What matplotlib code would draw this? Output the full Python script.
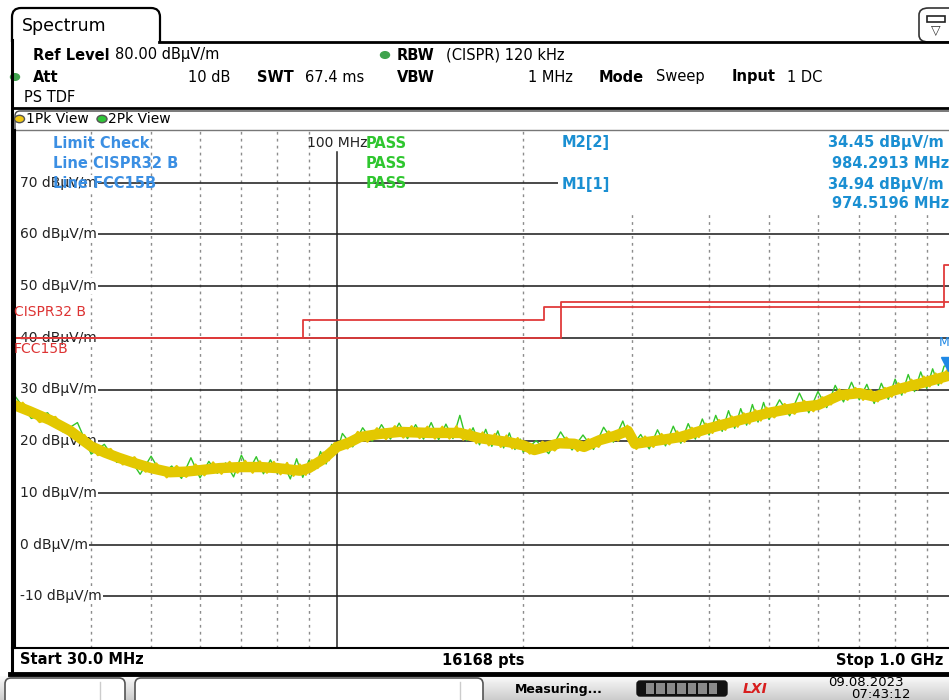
import matplotlib
matplotlib.use("Agg")
import matplotlib.pyplot as plt
from matplotlib.lines import Line2D
from matplotlib.patches import Rectangle, FancyBboxPatch, Circle, PathPatch
from matplotlib.path import Path
from matplotlib.transforms import blended_transform_factory
import numpy as np

# ---------------- data ----------------
cent_freq = [30, 31.8, 34.3, 37.0, 40, 42.1, 44.3, 46.9, 50, 53.6, 56.7, 60, 64.6, 70, 75, 80, 84, 87, 90,
             94.9, 100, 104.9, 108.9, 117.1, 126.2, 141.3, 158, 170, 190, 200, 208.6, 229, 242, 251, 266,
             281, 295.5, 303.4, 333, 359, 400, 449, 500, 561, 600, 651, 700, 742, 800, 900, 1000]
cent_level = [27.0, 25.8, 24.1, 22.0, 19.0, 17.8, 16.8, 15.8, 14.8, 14.0, 14.1, 14.4, 14.8, 15.0, 15.0, 14.8,
              14.5, 14.3, 14.8, 16.5, 18.9, 19.8, 20.8, 21.4, 21.8, 21.6, 21.6, 20.6, 19.8, 19.2, 18.3, 19.6,
              19.5, 18.9, 20.2, 21.0, 22.0, 19.5, 20.2, 20.8, 22.5, 24.1, 25.5, 26.6, 27.0, 28.9, 29.3, 28.6,
              29.9, 31.5, 33.0]

# 1Pk trace, rough edge readings
pk1_freq = [31, 33, 35, 37, 39, 41, 43, 45, 47, 49, 51, 53, 55, 57, 59, 61, 63, 65, 67, 69, 71, 73, 75, 77,
            79, 81, 83, 85, 87, 89, 91, 93, 95, 97, 99,
            104, 108, 112, 116, 120, 124, 128, 132, 136, 140, 144, 148, 152, 156, 160, 164, 168, 172, 176,
            180, 184, 188, 192, 196,
            205, 215, 225, 235, 245, 255, 265, 275, 285, 295, 305, 315, 325, 335, 345, 355, 365, 375, 385,
            395, 405, 415, 425, 435, 445, 455, 465, 475, 485, 495,
            510, 530, 550, 570, 590, 610, 630, 650, 670, 690, 710, 730, 750, 770, 790, 810, 830, 850, 870,
            890, 910, 930, 950, 970, 990]
pk1_level = [27.4, 23.7, 24.7, 21.0, 21.2, 17.3, 18.5, 15.5, 16.9, 14.1, 15.7, 13.0, 15.2, 13.1, 15.5, 13.4,
             15.9, 13.7, 16.0, 13.9, 16.2, 13.9, 16.1, 13.9, 16.0, 13.6, 15.8, 13.3, 15.5, 13.5, 16.3, 14.8,
             17.8, 16.3, 19.6,
             18.6, 21.8, 19.9, 22.5, 20.4, 22.9, 20.7, 22.9, 20.6, 22.8, 20.5, 22.8, 20.5, 22.9, 20.3, 22.3,
             19.6, 21.7, 19.2, 21.4, 18.9, 21.1, 18.6, 20.6,
             17.6, 19.9, 18.2, 20.7, 18.1, 20.4, 18.9, 21.9, 20.1, 23.0, 18.5, 20.9, 18.9, 21.4, 19.4, 21.9,
             19.9, 22.6, 20.8, 23.4, 21.6, 24.1, 22.2, 24.8, 22.8, 25.4, 23.4, 26.0, 24.0, 26.5,
             24.6, 27.2, 25.3, 27.8, 25.8, 28.5, 27.1, 30.0, 28.0, 30.3, 28.0, 29.9, 27.7, 30.3, 28.6, 31.2,
             29.4, 31.9, 30.0, 32.5, 30.6, 33.1, 31.2, 33.7, 31.8]

# 2Pk trace readings
pk2_freq = [30, 32, 34, 36, 38, 40, 42, 44, 46, 48, 50, 52, 54, 56, 58, 60, 62, 64, 66, 68, 70, 72, 74, 76,
            78, 80, 82, 84, 86, 88, 90, 92, 94, 96, 98, 100,
            102, 106, 110, 114, 118, 122, 126, 130, 134, 138, 142, 146, 150, 154, 158, 162, 166, 170, 174,
            178, 182, 186, 190, 194, 198,
            200, 210, 220, 230, 240, 250, 260, 270, 280, 290, 300, 310, 320, 330, 340, 350, 360, 370, 380,
            390, 400, 410, 420, 430, 440, 450, 460, 470, 480, 490, 500,
            520, 540, 560, 580, 600, 620, 640, 660, 680, 700, 720, 740, 760, 780, 800, 820, 840, 860, 880,
            900, 920, 940, 960, 980, 1000]
pk2_level = [29.0, 24.4, 25.5, 21.8, 23.6, 17.5, 19.4, 15.9, 17.0, 13.6, 17.1, 13.6, 15.2, 12.8, 16.8, 12.9,
             16.1, 13.8, 15.8, 13.1, 17.3, 14.3, 17.0, 13.7, 16.4, 13.8, 15.5, 12.7, 16.6, 13.0, 16.3, 14.5,
             18.0, 15.6, 19.4, 18.0,
             21.5, 18.9, 22.6, 20.0, 23.2, 20.4, 23.5, 20.5, 23.2, 20.4, 23.6, 20.3, 23.3, 20.5, 25.0, 20.1,
             22.6, 19.3, 22.3, 19.0, 22.0, 18.7, 21.6, 18.4, 20.4,
             17.9, 20.1, 17.6, 21.8, 18.3, 21.2, 18.4, 22.7, 19.8, 23.9, 19.0, 21.3, 18.5, 22.2, 19.1, 22.9,
             19.6, 23.4, 20.4, 24.3, 21.2, 25.0, 21.9, 25.9, 22.5, 26.3, 23.1, 27.1, 23.7, 27.5, 24.2,
             28.0, 24.9, 29.3, 25.5, 29.6, 26.5, 30.8, 27.6, 31.4, 28.0, 31.0, 27.3, 31.2, 28.1, 32.0, 28.9,
             32.9, 29.6, 33.4, 30.2, 34.0, 30.8, 34.5, 34.9, 31.7]

fcc_freq = [30, 88, 216, 960, 1000]
fcc_level = [40, 43.5, 46, 54, 54]
cispr_freq = [30, 230, 1000]
cispr_level = [40, 47, 47]

grid_levels = [70, 60, 50, 40, 30, 20, 10, 0, -10]
grid_labels = ["70 dBµV/m", "60 dBµV/m", "50 dBµV/m", "40 dBµV/m", "30 dBµV/m",
               "20 dBµV/m", "10 dBµV/m", "0 dBµV/m", "-10 dBµV/m"]
grid_freqs = [40, 50, 60, 70, 80, 90, 200, 300, 400, 500, 600, 700, 800, 900]
center_freq_line = 100

marker_freq = [974.5196]
marker_level = [34.94]

# ---------------- figure ----------------
W, H = 949, 700
plt.rcParams['font.family'] = ['DejaVu Sans']
fig = plt.figure(figsize=(W / 100, H / 100), dpi=100)
fig.patch.set_facecolor('white')


def fx(x):
    return x / W


def fy(y):
    return 1 - y / H


def T(x, y, s, **kw):
    kw.setdefault('va', 'center')
    kw.setdefault('fontsize', 10.5)
    fig.text(fx(x), fy(y), s, **kw)


def L(x1, y1, x2, y2, **kw):
    fig.add_artist(Line2D([fx(x1), fx(x2)], [fy(y1), fy(y2)], transform=fig.transFigure, **kw))


def pth(pts, codes, **kw):
    p = Path([(fx(a), fy(b)) for a, b in pts], codes)
    fig.add_artist(PathPatch(p, transform=fig.transFigure, **kw))


# Spectrum tab (open at the bottom)
pth([(12, 42), (12, 17), (12, 8), (21, 8), (151, 8), (160, 8), (160, 17), (160, 42)],
    [Path.MOVETO, Path.LINETO, Path.CURVE3, Path.CURVE3, Path.LINETO, Path.CURVE3, Path.CURVE3, Path.LINETO],
    facecolor='none', edgecolor='black', lw=1.6)
T(22, 26, "Spectrum", fontsize=12.5, zorder=3)
L(159, 42, W, 42, color='black', lw=2, zorder=3)
L(12, 40, 12, 674, color='black', lw=2.2, zorder=3)

# top-right icon
icon = FancyBboxPatch((fx(919), fy(42)), fx(40), 34 / H, boxstyle="round,pad=0,rounding_size=0.01",
                      transform=fig.transFigure, facecolor='white', edgecolor='#333333', lw=1.2)
fig.add_artist(icon)
fig.add_artist(Rectangle((fx(927), fy(22)), fx(18), 6 / H, transform=fig.transFigure,
                         facecolor='white', edgecolor='#222222', lw=1.2))
T(936, 31, "▽", fontsize=9, ha='center', color='#333333')

# info rows
dot_c = '#3fa34d'
fig.add_artist(Circle((fx(385), fy(55)), 4.5 / W, transform=fig.transFigure, color=dot_c))
fig.add_artist(Circle((fx(15), fy(77)), 4.5 / W, transform=fig.transFigure, color=dot_c))
T(33, 55, "Ref Level", fontweight='bold')
T(115, 55, "80.00 dBµV/m")
T(397, 55, "RBW", fontweight='bold')
T(446, 55, "(CISPR) 120 kHz")
T(33, 77, "Att", fontweight='bold')
T(230, 77, "10 dB", ha='right')
T(257, 77, "SWT", fontweight='bold')
T(305, 77, "67.4 ms")
T(397, 77, "VBW", fontweight='bold')
T(573, 77, "1 MHz", ha='right')
T(599, 77, "Mode", fontweight='bold')
T(656, 77, "Sweep")
T(732, 77, "Input", fontweight='bold')
T(787, 77, "1 DC")
T(24, 97, "PS TDF")
L(12, 108, W, 108, color='black', lw=2, zorder=3)

# 1Pk view bar
pth([(15, 130), (15, 116), (15, 111), (20, 111), (W, 111)],
    [Path.MOVETO, Path.LINETO, Path.CURVE3, Path.CURVE3, Path.LINETO],
    facecolor='none', edgecolor='#444444', lw=1)
L(15, 130, W, 130, color='#777777', lw=1, zorder=3)
fig.add_artist(Circle((fx(19.5), fy(119)), 5 / W, transform=fig.transFigure, facecolor='#f2c811',
                      edgecolor='#555555', lw=1))
fig.add_artist(Circle((fx(102), fy(119)), 5 / W, transform=fig.transFigure, facecolor='#2fc638',
                      edgecolor='#555555', lw=1))
T(26, 119, "1Pk View", fontsize=10)
T(108, 119, "2Pk View", fontsize=10)

# ---------------- main diagram ----------------
ax = fig.add_axes([14 / W, (H - 648) / H, 941 / W, 517 / H])
ax.set_xscale('log')
ax.set_xlim(30, 1000)
ax.set_ylim(-20, 80)
ax.set_axis_off()

ax.vlines(grid_freqs, -20, 80, colors='#8c8c8c', linestyles=(0, (2, 3)), lw=1, zorder=1)
ax.plot([center_freq_line, center_freq_line], [-20, 75.9], color='#222222', lw=1.1, zorder=1.5)
ax.hlines(grid_levels, 30.7, 1000, colors='#2a2a2a', lw=1.2, zorder=1.2)

# white area of marker table hides grid
ax.add_patch(Rectangle((227.7, 64.3), 1000 - 227.7, 80 - 64.3, facecolor='white', edgecolor='none', zorder=2))

bt = blended_transform_factory(ax.transAxes, ax.transData)
for lv, lb in zip(grid_levels, grid_labels):
    ax.text(6.5 / 941, lv, lb, transform=bt, va='center', ha='left', fontsize=10, color='#222222',
            bbox=dict(facecolor='white', edgecolor='none', pad=0.6), zorder=2.5)

ax.plot(pk2_freq, pk2_level, color='#33c52a', lw=1.0, zorder=4)
ax.plot(cent_freq, cent_level, color='#e3c800', lw=7.5, solid_joinstyle='round',
        solid_capstyle='butt', zorder=5)
ax.plot(pk1_freq, pk1_level, color='#e3c800', lw=1.6, zorder=5.2)

ax.step(fcc_freq, fcc_level, where='post', color='#e03a3a', lw=1.3, zorder=6)
ax.step(cispr_freq, cispr_level, where='post', color='#e03a3a', lw=1.3, zorder=6)

ax.plot(marker_freq, marker_level, marker='v', ms=10, color='#1e88e5', linestyle='none', zorder=7)
ax.annotate("M1", (marker_freq[0], marker_level[0]), xytext=(0, 11), textcoords='offset points',
            ha='center', va='bottom', fontsize=9, color='#1e88e5', zorder=7, annotation_clip=False)

# plot frame
L(15, 130, 15, 648, color='black', lw=1.5, zorder=3)
L(12, 648, W, 648, color='black', lw=1.5, zorder=3)

# marker / limit table
blue1 = '#3b8fe3'
blue2 = '#1a8fd2'
green_t = '#2fc62f'
T(53, 143, "Limit Check", color=blue1, fontweight='bold', fontsize=10.5, zorder=4)
T(53, 163, "Line CISPR32 B", color=blue1, fontweight='bold', fontsize=10.5, zorder=4)
T(53, 183, "Line FCC15B", color=blue1, fontweight='bold', fontsize=10.5, zorder=4)
T(307, 143, "100 MHz", color='#222222', fontsize=10, zorder=4)
for yy in (143, 163, 183):
    T(366, yy, "PASS", color=green_t, fontweight='bold', fontsize=10.5, zorder=4)
T(562, 143, "M2[2]", color=blue2, fontweight='bold', fontsize=10.5, zorder=4)
T(562, 184, "M1[1]", color=blue2, fontweight='bold', fontsize=10.5, zorder=4)
T(828, 143, "34.45 dBµV/m", color=blue2, fontweight='bold', fontsize=10.5, zorder=4)
T(832, 163, "984.2913 MHz", color=blue2, fontweight='bold', fontsize=10.5, zorder=4)
T(828, 184, "34.94 dBµV/m", color=blue2, fontweight='bold', fontsize=10.5, zorder=4)
T(832, 203, "974.5196 MHz", color=blue2, fontweight='bold', fontsize=10.5, zorder=4)

T(14, 312, "CISPR32 B", color='#dd3333', fontsize=10, zorder=4)
T(14, 349, "FCC15B", color='#dd3333', fontsize=10, zorder=4)

# bottom row
T(20, 660, "Start 30.0 MHz", fontweight='bold', fontsize=10.5)
T(483, 660, "16168 pts", fontweight='bold', fontsize=10.5, ha='center')
T(943, 660, "Stop 1.0 GHz", fontweight='bold', fontsize=10.5, ha='right')
L(10, 673.5, W, 673.5, color='black', lw=3.5, zorder=3)

# status bar
axs = fig.add_axes([0, 0, 1, 24 / H])
grad = np.linspace(0.98, 0.80, 50).reshape(-1, 1)
axs.imshow(grad, aspect='auto', cmap='gray', vmin=0, vmax=1, extent=[0, W, 700, 676])
axs.set_xlim(0, W)
axs.set_ylim(700, 676)
axs.set_axis_off()
for (x0, x1, xt) in [(5, 125, 100), (135, 483, 460)]:
    axs.add_patch(FancyBboxPatch((x0, 678), x1 - x0, 30, boxstyle="round,pad=0,rounding_size=6",
                                 facecolor='white', edgecolor='#555555', lw=1.2))
    axs.plot([xt, xt], [682, 700], color='#cccccc', lw=1)
axs.text(515, 689, "Measuring...", fontweight='bold', fontsize=9, va='center', ha='left')
axs.add_patch(FancyBboxPatch((637, 681), 90, 15, boxstyle="round,pad=0,rounding_size=3",
                             facecolor='#111111', edgecolor='#111111'))
for i in range(7):
    axs.add_patch(Rectangle((646 + i * 10.5, 683), 8.5, 11, facecolor='#8a8a8a', edgecolor='none'))
axs.text(755, 689, "LXI", color='#d81e1e', fontweight='bold', fontstyle='italic', fontsize=10,
         va='center', ha='center')
axs.text(866, 682, "09.08.2023", fontsize=9.5, va='center', ha='center')
axs.text(881, 694.5, "07:43:12", fontsize=9.5, va='center', ha='center')

fig.savefig("out.png", dpi=100, facecolor='white')
